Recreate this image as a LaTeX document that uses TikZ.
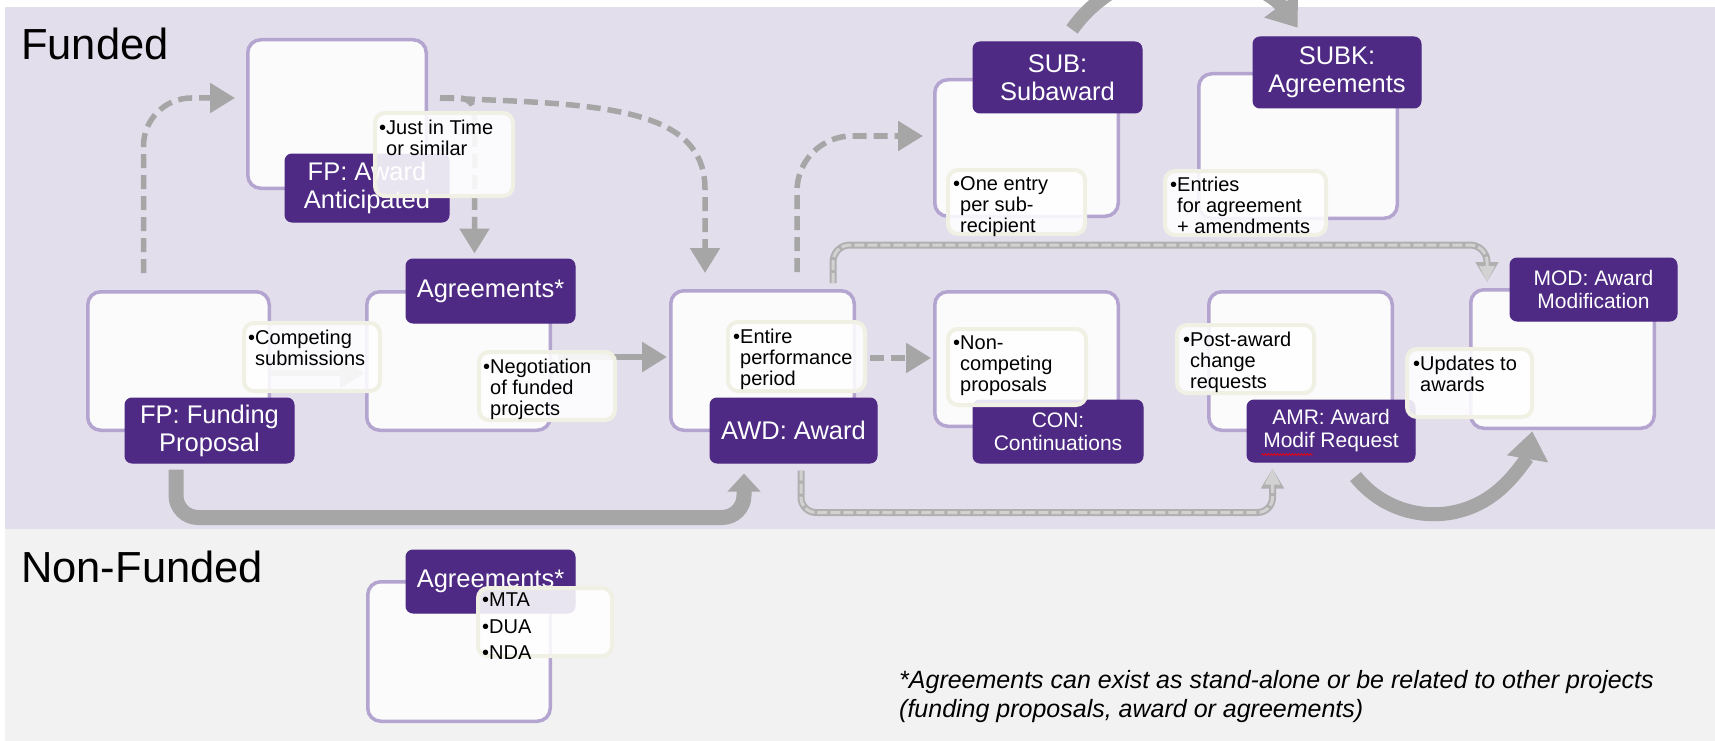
\documentclass[tikz,border=0pt]{standalone}
\usepackage{fontspec}
\setmainfont{Liberation Sans}
\usetikzlibrary{arrows.meta,calc,decorations.pathmorphing}
\definecolor{bandpurple}{HTML}{E3DEEC}
\definecolor{bandgrey}{HTML}{F2F2F2}
\definecolor{nupurple}{HTML}{4E2A84}
\definecolor{boxedge}{HTML}{B3A4D0}
\definecolor{boxfill}{HTML}{FBFBFB}
\definecolor{calledge}{HTML}{F0F0E4}
\definecolor{arrowgrey}{HTML}{A6A6A6}
\definecolor{dashouter}{HTML}{B0B0B0}
\definecolor{dashinner}{HTML}{D2D2D2}
\pgfdeclarelayer{backdrop}
\pgfdeclarelayer{links}
\pgfsetlayers{backdrop,links,main}
\newcommand\lblfont{\fontsize{25.5}{28}\selectfont}
\newcommand\lblsmall{\fontsize{21}{23}\selectfont}
\newcommand\callfont{\fontsize{20}{21}\selectfont}
\newcommand\listfont{\fontsize{20}{26.5}\selectfont}
\newcommand\headfont{\fontsize{43.5}{48}\selectfont}
\newcommand\notefont{\fontsize{25}{29}\selectfont\itshape}
\newcommand\bulind{\hphantom{•}}
\tikzset{
  sz/.style 2 args={minimum width=#1pt, minimum height=#2pt},
  stagebox/.style={draw=boxedge, line width=3.5pt, fill=boxfill, rounded corners=13pt, inner sep=0pt},
  stagelabel/.style={fill=nupurple, draw=nupurple, line width=1pt, rounded corners=7pt, text=white, align=center, inner sep=0pt, font=\lblfont},
  callout/.style={draw=calledge, line width=4pt, fill=white, fill opacity=0.88, rounded corners=10pt, inner sep=0pt},
  calltext/.style={anchor=north west, inner sep=0pt, align=left, font=\callfont, text=black},
  dasharrow/.style={draw=arrowgrey, line width=5.5pt, dash pattern=on 14pt off 7pt, -{Triangle[length=25pt,width=29pt]}},
  solidarrow/.style={draw=arrowgrey, line width=6pt, -{Triangle[length=25pt,width=29pt]}},
  thickarrow/.style={draw=arrowgrey, line width=15pt, -{Triangle[length=18pt,width=32pt]}},
  arcarrow/.style={draw=arrowgrey, line width=14pt, -{Triangle[length=28pt,width=40pt]}},
  dbloutline/.style={draw=dashouter, line width=7pt, -{Triangle[length=20pt,width=22pt]}},
  dblinner/.style={draw=dashinner, line width=3pt, dash pattern=on 10pt off 3pt, -{Triangle[length=16pt,width=15pt]}},
}
\begin{document}
\begin{tikzpicture}[x=1pt,y=-1pt]
\useasboundingbox (0,0) rectangle (1715,741);
\clip (0,0) rectangle (1715,741);
\begin{pgfonlayer}{backdrop}
\fill[white] (0,0) rectangle (1715,741);
\fill[bandpurple] (5,7) rectangle (1715,529);
\fill[bandgrey] (5,529) rectangle (1715,741);
\end{pgfonlayer}

% stage boxes
\node[stagebox, sz={178.5}{148.5}] (fpaabox) at (337,114) {};
\node[stagebox, sz={181.5}{138.5}] (fpbox) at (178.5,361) {};
\node[stagebox, sz={183.5}{138.5}] (agrbox) at (458.5,361) {};
\node[stagebox, sz={183.5}{139.5}] (awdbox) at (762.5,360.5) {};
\node[stagebox, sz={183.5}{134.5}] (conbox) at (1026.5,359) {};
\node[stagebox, sz={183.5}{136.5}] (subbox) at (1026.5,148) {};
\node[stagebox, sz={198.5}{144.5}] (subkbox) at (1298,146) {};
\node[stagebox, sz={183.5}{138.5}] (amrbox) at (1300.5,361) {};
\node[stagebox, sz={183.5}{138.5}] (modbox) at (1562.5,359) {};
\node[stagebox, sz={182.5}{139.5}] (nfagrbox) at (459,651.5) {};

% labels
\node[stagelabel, sz={164}{68}] (fpaalabel) at (367,188) {FP: Award\\Anticipated};
\node[stagelabel, sz={169}{65}] (fplabel) at (209.5,430.5) {FP: Funding\\Proposal};
\node[stagelabel, sz={169}{64}] (agrlabel) at (490.5,291) {Agreements*};
\node[stagelabel, sz={167}{65}] (awdlabel) at (793.5,430.5) {AWD: Award};
\node[stagelabel, sz={170}{63}, font=\lblsmall] (conlabel) at (1058,431.5) {CON:\\Continuations};
\node[stagelabel, sz={169}{71}] (sublabel) at (1057.5,77.5) {SUB:\\Subaward};
\node[stagelabel, sz={168}{71}] (subklabel) at (1337,72.5) {SUBK:\\Agreements};
\node[stagelabel, sz={168}{62}, font=\lblsmall] (amrlabel) at (1331,431) {AMR: Award\\Modif Request};
\node[stagelabel, sz={167}{63}, font=\lblsmall] (modlabel) at (1593.5,289.5) {MOD: Award\\Modification};
\node[stagelabel, sz={169}{63}] (nfagrlabel) at (490.5,581.5) {Agreements*};
\draw[red, line width=0.7pt, decorate, decoration={snake, amplitude=0.8pt, segment length=3pt}] ($(amrlabel.south west)+(15,-8)$) -- ($(amrlabel.south west)+(66,-8)$);

% callouts
\node[callout, sz={138}{83}] (jitbox) at (444,154.5) {};
\node[callout, sz={136}{68}] (compbox) at (312,357) {};
\node[callout, sz={136}{68}] (negbox) at (547,386) {};
\node[callout, sz={137}{69}] (entirebox) at (796.5,356.5) {};
\node[callout, sz={138}{76}] (noncompbox) at (1017,367) {};
\node[callout, sz={137}{64}] (oneentrybox) at (1016.5,202) {};
\node[callout, sz={161}{64}] (entriesbox) at (1245.5,203) {};
\node[callout, sz={137}{68}] (postbox) at (1245.5,359) {};
\node[callout, sz={125}{68}] (updatesbox) at (1469.5,383) {};
\node[callout, sz={134}{68}] (mtabox) at (545,622) {};

\node[calltext] (jittext) at ($(jitbox.north west)+(6,8.5)$) {•Just in Time\\\bulind or similar};
\node[calltext] (comptext) at ($(compbox.north west)+(6,8.5)$) {•Competing\\\bulind submissions};
\node[calltext] (negtext) at ($(negbox.north west)+(6,8.5)$) {•Negotiation\\\bulind of funded\\\bulind projects};
\node[calltext] (entiretext) at ($(entirebox.north west)+(7,8.5)$) {•Entire\\\bulind performance\\\bulind period};
\node[calltext] (noncomptext) at ($(noncompbox.north west)+(7,8.5)$) {•Non-\\\bulind competing\\\bulind proposals};
\node[calltext] (oneentrytext) at ($(oneentrybox.north west)+(7,8.5)$) {•One entry\\\bulind per sub-\\\bulind recipient};
\node[calltext] (entriestext) at ($(entriesbox.north west)+(7,8)$) {•Entries\\\bulind for agreement\\\bulind + amendments};
\node[calltext] (posttext) at ($(postbox.north west)+(8,8.5)$) {•Post-award\\\bulind change\\\bulind requests};
\node[calltext] (updatestext) at ($(updatesbox.north west)+(8,8.5)$) {•Updates to\\\bulind awards};
\node[calltext, font=\listfont] (mtatext) at ($(mtabox.north west)+(6,7)$) {•MTA\\•DUA\\•NDA};

% connectors, below the boxes
\begin{pgfonlayer}{links}
\draw[dasharrow, rounded corners=48pt] ($(fpbox.north)+(-35,-17)$) |- ($(fpaabox.west)+(-11,-16)$);
\draw[dasharrow] ($(fpaabox.east)+(12,-16)$) .. controls +(150,6) and +(0,-85) .. ($(awdbox.north)+(-57.5,-100)$) -- ($(awdbox.north)+(-57.5,-16)$);
\draw[dasharrow, rounded corners=15pt] ($(fpaabox.east)+(12,-16)$) -| ($(agrlabel.north)+(-16,-5)$);
\draw[solidarrow] ($(fpbox.east)+(0,12)$) -- ($(agrbox.west)+(0,12)$);
\draw[solidarrow] ($(agrbox.east)+(6,-4)$) -- ($(awdbox.west)+(-2,-3.5)$);
\draw[dasharrow, rounded corners=55pt] ($(awdbox.north)+(34.5,-17)$) |- ($(subbox.west)+(-10,-12)$);
\draw[dasharrow] ($(entirebox.east)+(3,1.5)$) -- ($(conbox.west)+(-2,-1)$);
\draw[dbloutline, rounded corners=17pt] ($(awdbox.north)+(70.5,-6)$) |- ($(modbox.north west)+(18,-43)$) -- ($(modbox.north west)+(18,-6)$);
\draw[dblinner, rounded corners=17pt] ($(awdbox.north)+(70.5,-6)$) |- ($(modbox.north west)+(18,-43)$) -- ($(modbox.north west)+(18,-6)$);
\draw[thickarrow, rounded corners=22pt] ($(fplabel.south)+(-33.5,6)$) |- ($(awdlabel.south)+(-49.5,54)$) -- ($(awdlabel.south)+(-49.5,10)$);
\draw[dbloutline, rounded corners=15pt] ($(awdlabel.south)+(7.5,7)$) |- ($(amrlabel.south west)+(26,50)$) -- ($(amrlabel.south west)+(26,6)$);
\draw[dblinner, rounded corners=15pt] ($(awdlabel.south)+(7.5,7)$) |- ($(amrlabel.south west)+(26,50)$) -- ($(amrlabel.south west)+(26,6)$);
\draw[arcarrow] ($(amrlabel.south east)+(-60,14)$) arc[start angle=218.5, end angle=350.2, radius=100pt];
\draw[arcarrow] ($(sublabel.north)+(14.5,-12)$) arc[start angle=144.7, end angle=36.2, radius=139pt];
\end{pgfonlayer}

% headings and note
\node[anchor=base west, inner sep=0pt, font=\headfont] (funded) at (21,60) {Funded};
\node[anchor=base west, inner sep=0pt, font=\headfont] (nonfunded) at (21,582) {Non-Funded};
\node[anchor=north west, inner sep=0pt, align=left, font=\notefont] (note) at (899,670) {*Agreements can exist as stand-alone or be related to other projects\\(funding proposals, award or agreements)};
\end{tikzpicture}
\end{document}
